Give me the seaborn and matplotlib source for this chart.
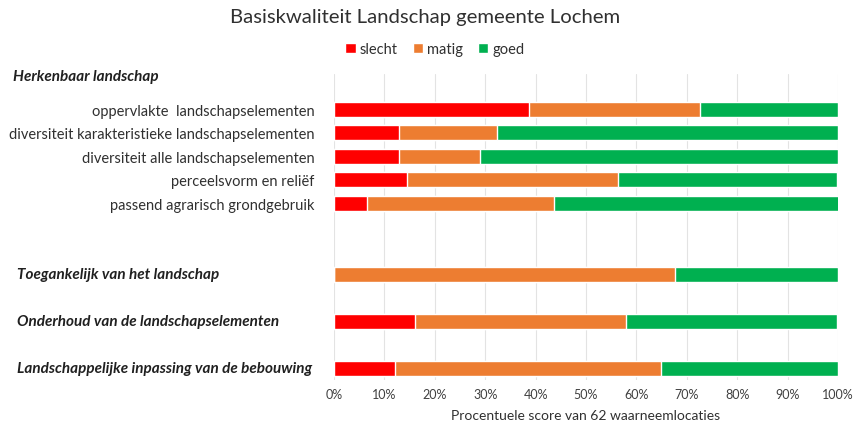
import matplotlib
matplotlib.use("Agg")
import matplotlib.pyplot as plt
from matplotlib.transforms import blended_transform_factory
import seaborn as sns
import pandas as pd
import numpy as np

# Rows of the chart, top to bottom (blank keys are spacer rows)
rows = ["herkenbaar", "oppervlakte", "div_kar", "div_alle", "perceel", "agrarisch",
        "gap1", "gap2", "toegankelijk", "gap3", "onderhoud", "gap4", "inpassing"]

bar_rows = ["oppervlakte", "div_kar", "div_alle", "perceel", "agrarisch",
            "toegankelijk", "onderhoud", "inpassing"]
slecht = [38.7, 12.9, 12.9, 14.5, 6.5, 0.0, 16.1, 12.2]
matig = [33.9, 19.4, 16.1, 41.9, 37.1, 67.7, 41.9, 52.6]
goed = [27.4, 67.7, 71.0, 43.5, 56.5, 32.3, 41.9, 35.2]

sub_labels = {
    "oppervlakte": "oppervlakte  landschapselementen",
    "div_kar": "diversiteit karakteristieke landschapselementen",
    "div_alle": "diversiteit alle landschapselementen",
    "perceel": "perceelsvorm en reliëf",
    "agrarisch": "passend agrarisch grondgebruik",
}
headers = {
    "herkenbaar": "Herkenbaar landschap",
    "toegankelijk": "Toegankelijk van het landschap",
    "onderhoud": "Onderhoud van de landschapselementen",
    "inpassing": "Landschappelijke inpassing van de bebouwing",
}

categories = ["slecht", "matig", "goed"]
colors = {"slecht": "#FF0000", "matig": "#ED7D31", "goed": "#00B050"}

df = pd.DataFrame({"row": bar_rows, "slecht": slecht, "matig": matig, "goed": goed})
df["c_slecht"] = df["slecht"]
df["c_matig"] = df["slecht"] + df["matig"]
df["c_goed"] = df["slecht"] + df["matig"] + df["goed"]

sns.set_style("white")
plt.rcParams["font.family"] = ["Lato", "DejaVu Sans"]

fig = plt.figure(figsize=(8.54, 4.27), dpi=100)
ax = fig.add_axes([334 / 854, 1 - 381 / 427, 504 / 854, 306 / 427])

# Stacked bars: draw cumulative totals from the back to the front
for cat in ["goed", "matig", "slecht"]:
    sns.barplot(data=df, y="row", x="c_" + cat, order=rows, orient="h",
                color=colors[cat], width=0.64, saturation=1, ax=ax,
                label=cat, zorder=3)

ax.set_xlim(0, 100)
ax.set_ylim(12.5, -0.5)
ax.set_xticks(np.arange(0, 101, 10))
ax.set_xticklabels([f"{v}%" for v in range(0, 101, 10)], fontsize=9, color="#404040")
ax.xaxis.grid(True, color="#E3E3E3", linewidth=0.8, zorder=0)
ax.yaxis.grid(False)
for s in ax.spines.values():
    s.set_visible(False)
ax.tick_params(axis="both", length=0, pad=6)

ax.set_yticks(range(len(rows)))
ax.set_yticklabels([sub_labels.get(r, "") for r in rows], fontsize=10.5, color="#303030")
ax.tick_params(axis="y", pad=14)
ax.set_ylabel("")
ax.set_xlabel("Procentuele score van 62 waarneemlocaties", fontsize=10,
              color="#303030", labelpad=6)

# Section headers, left aligned in the figure margin
hdr_trans = blended_transform_factory(fig.transFigure, ax.transData)
for r, text in headers.items():
    yi = rows.index(r)
    dy = -0.4 if r == "herkenbaar" else 0.0
    x0 = 13 / 854 if r == "herkenbaar" else 17 / 854
    ax.text(x0, yi + dy, text, transform=hdr_trans, ha="left", va="center",
            fontsize=11, fontweight="bold", fontstyle="italic", color="#202020")

fig.text(425 / 854, 1 - 17 / 427, "Basiskwaliteit Landschap gemeente Lochem",
         ha="center", va="center", fontsize=14.6, color="#303030")

handles, labels = ax.get_legend_handles_labels()
order_idx = [labels.index(c) for c in categories]
leg = fig.legend([handles[i] for i in order_idx], categories, loc="center",
                 bbox_to_anchor=(435 / 854, 1 - 50 / 427), ncol=3, frameon=False,
                 fontsize=10.5, handlelength=0.7, handleheight=0.7,
                 handletextpad=0.3, columnspacing=1.0)
for t in leg.get_texts():
    t.set_color("#303030")
if ax.get_legend() is not None:
    ax.get_legend().remove()

fig.savefig("out.png", dpi=100, facecolor="white")
